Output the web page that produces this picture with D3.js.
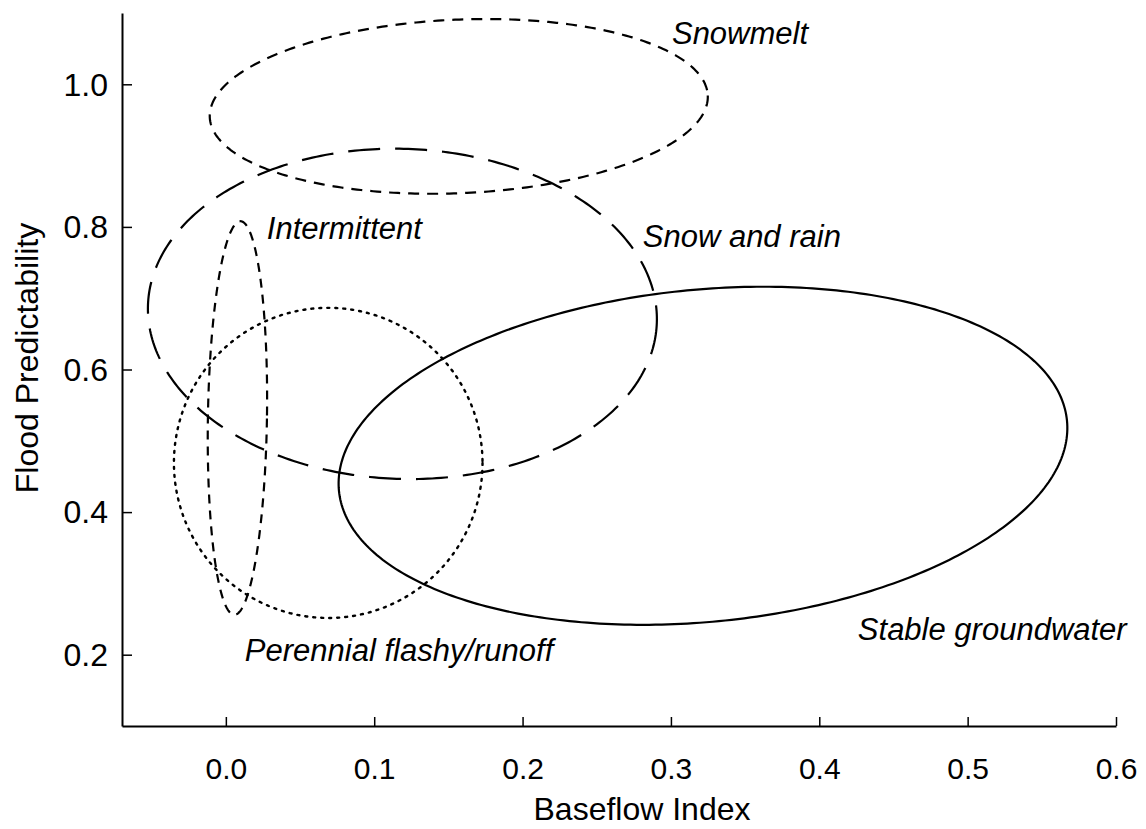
<!DOCTYPE html>
<html>
<head>
<meta charset="utf-8">
<script src="https://cdn.jsdelivr.net/npm/d3@7"></script>
<style>
  body { margin: 0; background: #fff; }
  svg { display: block; font-family: "Liberation Sans", Arial, sans-serif; }
</style>
</head>
<body>
<svg id="chart" width="1146" height="829"></svg>
<script>
// flow regime groups, ellipses in data units (Baseflow Index, Flood Predictability)
const groups = ["Snowmelt", "Snow and rain", "Intermittent", "Perennial flashy/runoff", "Stable groundwater"];
const centerBFI = [0.157, 0.119, 0.0078, 0.069, 0.3216];
const centerFP = [0.969, 0.678, 0.532, 0.469, 0.479];
const spreadBFI = [0.168, 0.1716, 0.0199, 0.104, 0.2465];
const spreadFP = [0.1217, 0.2315, 0.276, 0.2175, 0.233];
const tiltDeg = [-2.5, 2, 0.9, 0, -5.5];

// where each group's name sits (data units)
const labelBFI = [0.3007, 0.281, 0.0276, 0.0128, 0.426];
const labelFP = [1.057, 0.772, 0.783, 0.1916, 0.221];

const xTicks = [0.0, 0.1, 0.2, 0.3, 0.4, 0.5, 0.6];
const yTicks = [0.2, 0.4, 0.6, 0.8, 1.0];

// line style per group
const dashes = {
    "Snowmelt": "11,8",
    "Snow and rain": "32,15",
    "Intermittent": "9,7",
    "Perennial flashy/runoff": "2,6",
    "Stable groundwater": null
};

var svg = d3.select("#chart");

var x = d3.scaleLinear().domain([-0.07, 0.6]).range([122, 1116]);
var y = d3.scaleLinear().domain([0.1, 1.1]).range([726, 13]);

//#region AXES
var xAxis = svg.append("g")
    .attr("transform", `translate(0,${y.range()[0]})`)
    .call(d3.axisBottom(x).tickValues(xTicks).tickFormat(d3.format(".1f"))
        .tickSizeInner(-9).tickSizeOuter(0).tickPadding(32));

var yAxis = svg.append("g")
    .attr("transform", `translate(${x.range()[0]},0)`)
    .call(d3.axisLeft(y).tickValues(yTicks).tickFormat(d3.format(".1f"))
        .tickSizeInner(-10).tickSizeOuter(0).tickPadding(14));

[xAxis, yAxis].forEach(function(a){
    a.select(".domain").style("stroke", "#000").style("stroke-width", "2px");
    a.selectAll(".tick line").style("stroke", "#000").style("stroke-width", "1.5px");
    a.selectAll(".tick text").style("fill", "#000").style("font-family", "Liberation Sans, Arial, sans-serif");
});
xAxis.selectAll(".tick text").style("font-size", "30px");
yAxis.selectAll(".tick text").style("font-size", "32px").attr("dy", "0.34em");

svg.append("text")
    .attr("x", 642)
    .attr("y", 820)
    .attr("text-anchor", "middle")
    .style("font-size", "32px")
    .text("Baseflow Index");

svg.append("text")
    .attr("transform", "translate(38,358) rotate(-90)")
    .attr("text-anchor", "middle")
    .style("font-size", "32px")
    .text("Flood Predictability");

//#region ELLIPSES
function ellipsePoints(i){
    var a = Math.abs(x(centerBFI[i] + spreadBFI[i]) - x(centerBFI[i]));
    var b = Math.abs(y(centerFP[i] + spreadFP[i]) - y(centerFP[i]));
    var cx = x(centerBFI[i]);
    var cy = y(centerFP[i]);
    var phi = tiltDeg[i] * Math.PI / 180;
    var pts = [];
    for(var k = 0; k <= 360; k++){
        var t = k * Math.PI / 180;
        var ex = a * Math.cos(t);
        var ey = b * Math.sin(t);
        pts.push([cx + ex * Math.cos(phi) - ey * Math.sin(phi), cy + ex * Math.sin(phi) + ey * Math.cos(phi)]);
    }
    return pts;
}

var line = d3.line().curve(d3.curveLinearClosed);

groups.forEach(function(name, i){
    var p = svg.append("path")
        .attr("d", line(ellipsePoints(i)))
        .style("fill", "none")
        .style("stroke", "#000")
        .style("stroke-width", "2.2px");
    if(dashes[name]){
        p.style("stroke-dasharray", dashes[name]);
    }
    if(name == "Perennial flashy/runoff"){
        p.style("stroke-linecap", "round").style("stroke-width", "2.4px");
    }
});

//#region LABELS
groups.forEach(function(name, i){
    svg.append("text")
        .attr("x", x(labelBFI[i]))
        .attr("y", y(labelFP[i]))
        .style("font-size", "31px")
        .style("font-style", "italic")
        .text(name);
});
</script>
</body>
</html>
